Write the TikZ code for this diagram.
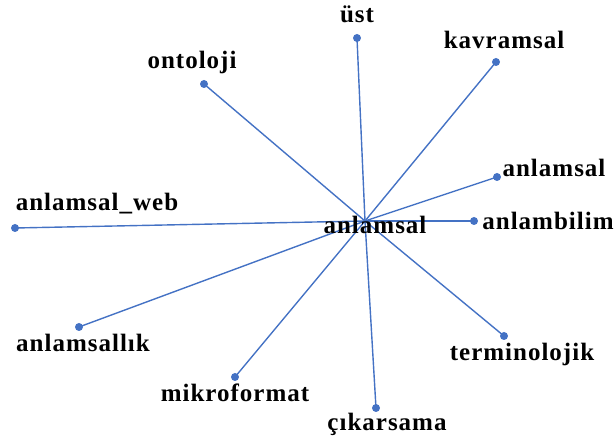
\documentclass[tikz,border=0pt]{standalone}
\usepackage{fontspec}
\setmainfont{Liberation Serif}[LetterSpace=4]
\usepackage{tikz}
\usetikzlibrary{calc}
\usepackage{tkz-euclide}
\definecolor{linkblue}{HTML}{4472C4}
\tikzset{
  word/.style={font=\fontsize{25}{29}\selectfont\bfseries, inner sep=0pt},
}
\begin{document}
\begin{tikzpicture}[x=1pt, y=1pt]
            \useasboundingbox (0,0) rectangle (614,443);
            \tkzDefPoints{365/222/C, 357/405/U, 496/381/K, 497/266/R, 474/222/B,
                          504/107/T, 376/35/Cs, 235/66/M, 79/116/L, 15/215/W, 204/359/O}
            \tkzDrawSegments[linkblue, line width=1.4pt](C,U C,K C,R C,B C,T C,Cs C,M C,L C,W C,O)
            \foreach \p in {U,K,R,B,T,Cs,M,L,W,O}
              \fill[linkblue] (\p) circle (4);
            %\tkzDrawPoints(U,K,R,B,T,Cs,M,L,W,O)
            \node[word] (lC) at (375,218) {anlamsal};
            \node[word] (lU) at (357,429) {üst};
            \node[word] (lK) at (504,403) {kavramsal};
            \node[word] (lR) at (554,275) {anlamsal};
            \node[word] (lB) at (548,222) {anlambilim};
            \node[word] (lT) at (522,89) {terminolojik};
            \node[word] (lCs) at (387,19) {çıkarsama};
            \node[word] (lM) at (235,50) {mikroformat};
            \node[word] (lL) at (83,100) {anlamsallık};
            \node[word] (lW) at (97,239) {anlamsal\_web};
            \node[word] (lO) at (192,381) {ontoloji};
        \end{tikzpicture}
\end{document}
